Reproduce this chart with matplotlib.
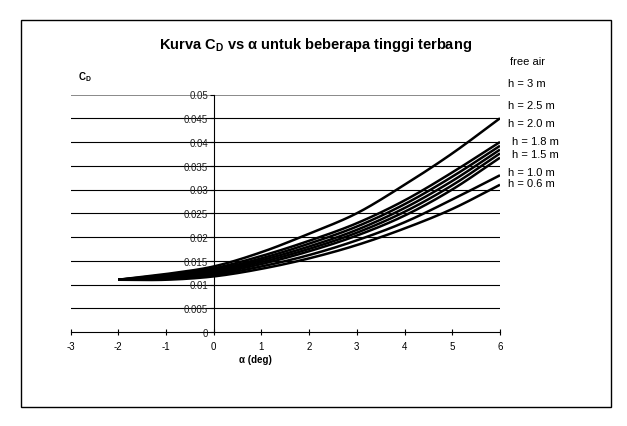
import matplotlib
matplotlib.use('Agg')
import numpy as np
import matplotlib.pyplot as plt
from matplotlib.patches import Rectangle

plt.rcParams['font.family'] = ['Liberation Sans', 'DejaVu Sans']
plt.rcParams['mathtext.fontset'] = 'custom'
plt.rcParams['mathtext.rm'] = 'Liberation Sans'
plt.rcParams['mathtext.bf'] = 'Liberation Sans:bold'

# angle of attack (deg)
alpha = [-2, -1, 0, 1, 2, 3, 4, 5, 6]

# drag coefficient for each flight height
cd_free_air = [0.011, 0.0122, 0.0138, 0.0168, 0.0207, 0.0250, 0.0310, 0.0376, 0.0450]
cd_h30 = [0.011, 0.0120, 0.0134, 0.0160, 0.0192, 0.0229, 0.0277, 0.0336, 0.0400]
cd_h25 = [0.011, 0.0118, 0.0131, 0.0155, 0.0186, 0.0222, 0.0269, 0.0327, 0.0392]
cd_h20 = [0.011, 0.0117, 0.0128, 0.0151, 0.0180, 0.0215, 0.0261, 0.0318, 0.0384]
cd_h18 = [0.011, 0.0115, 0.0126, 0.0147, 0.0175, 0.0209, 0.0253, 0.0309, 0.0376]
cd_h15 = [0.011, 0.0114, 0.0123, 0.0143, 0.0170, 0.0203, 0.0245, 0.0300, 0.0367]
cd_h10 = [0.011, 0.0112, 0.0120, 0.0138, 0.0162, 0.0193, 0.0231, 0.0279, 0.0330]
cd_h06 = [0.011, 0.0110, 0.0117, 0.0133, 0.0155, 0.0183, 0.0218, 0.0259, 0.0310]

series = [cd_free_air, cd_h30, cd_h25, cd_h20, cd_h18, cd_h15, cd_h10, cd_h06]
labels = ['free air', 'h = 3 m', 'h = 2.5 m', 'h = 2.0 m',
          'h = 1.8 m', 'h = 1.5 m', 'h = 1.0 m', 'h = 0.6 m']
# figure-pixel y of each label (labels sit to the right of the plot)
label_y = [62, 84, 106, 124, 142, 155, 173, 184]

x_ticks = [-3, -2, -1, 0, 1, 2, 3, 4, 5, 6]
y_ticks = [0, 0.005, 0.01, 0.015, 0.02, 0.025, 0.03, 0.035, 0.04, 0.045, 0.05]


def smooth(xs, ys, n=20):
    """Catmull-Rom drawing path through the points, like a smoothed Excel line"""
    xs = np.asarray(xs, float)
    ys = np.asarray(ys, float)
    px = np.concatenate([[2 * xs[0] - xs[1]], xs, [2 * xs[-1] - xs[-2]]])
    py = np.concatenate([[2 * ys[0] - ys[1]], ys, [2 * ys[-1] - ys[-2]]])
    t = np.linspace(0, 1, n, endpoint=False)
    ox, oy = [], []
    for i in range(1, len(px) - 2):
        for p, o in ((px, ox), (py, oy)):
            p0, p1, p2, p3 = p[i - 1], p[i], p[i + 1], p[i + 2]
            o.extend(0.5 * (2 * p1 + (-p0 + p2) * t
                            + (2 * p0 - 5 * p1 + 4 * p2 - p3) * t ** 2
                            + (-p0 + 3 * p1 - 3 * p2 + p3) * t ** 3))
    ox.append(xs[-1])
    oy.append(ys[-1])
    return ox, oy


W, H = 627, 427
fig = plt.figure(figsize=(W / 100, H / 100), dpi=100)

# outer chart border
fig.patches.append(Rectangle((21 / W, 1 - 408 / H), 590 / W, 387 / H,
                             transform=fig.transFigure, fill=False,
                             edgecolor='black', linewidth=1.0))

ax = fig.add_axes([70.5 / W, 1 - 333 / H, 429.5 / W, 237.5 / H])
ax.set_xlim(-3, 6)
ax.set_ylim(0, 0.05)

for yv in y_ticks[1:]:
    col = '#808080' if yv == 0.05 else 'black'
    lw = 1.3 if yv == 0.05 else 0.8
    ax.axhline(yv, color=col, linewidth=lw, zorder=1)

for cd in series:
    sx, sy = smooth(alpha, cd)
    ax.plot(sx, sy, color='black', linewidth=1.8, zorder=3,
            solid_capstyle='butt')

ax.spines['top'].set_visible(False)
ax.spines['right'].set_visible(False)
ax.spines['left'].set_position(('data', 0))
ax.spines['left'].set_linewidth(0.8)
ax.spines['bottom'].set_linewidth(0.8)

ax.set_xticks(x_ticks)
ax.set_xticklabels([str(v) for v in x_ticks])
ax.set_yticks(y_ticks)
ax.set_yticklabels(['0' if v == 0 else ('%g' % v) for v in y_ticks])
ax.tick_params(axis='x', direction='inout', length=5, width=0.8,
               labelsize=7, pad=4)
ax.tick_params(axis='y', direction='out', length=3, width=0.8,
               labelsize=7, pad=1, labelcolor='#222222')

fig.text(316 / W, 1 - 45 / H,
         r'Kurva C$_{\mathbf{D}}$ vs α untuk beberapa tinggi terbang',
         ha='center', va='center', fontsize=10.5, fontweight='bold')
fig.text(85 / W, 1 - 77 / H, r'C$_{\mathbf{D}}$', ha='center', va='center',
         fontsize=7, fontweight='bold')
fig.text(255 / W, 1 - 360 / H, 'α (deg)', ha='center', va='center',
         fontsize=7, fontweight='bold')

for lab, yp in zip(labels, label_y):
    xp = 512 if lab in ('h = 1.8 m', 'h = 1.5 m') else 508
    if lab == 'free air':
        xp = 510
    fig.text(xp / W, 1 - yp / H, lab, ha='left', va='center', fontsize=8)

fig.savefig('out.png', dpi=100)
